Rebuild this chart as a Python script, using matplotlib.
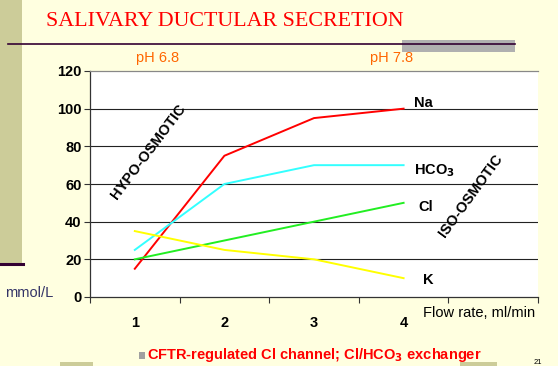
import matplotlib
matplotlib.use("Agg")
import matplotlib.pyplot as plt
from matplotlib.patches import Rectangle
from matplotlib.lines import Line2D

flow = [1, 2, 3, 4]
na = [15, 75, 95, 100]
hco3 = [25, 60, 70, 70]
cl = [20, 30, 40, 50]
k = [35, 25, 20, 10]
yticks = [0, 20, 40, 60, 80, 100, 120]

W, H = 558, 366
fig = plt.figure(figsize=(W / 100, H / 100), dpi=100)
fig.patch.set_facecolor("#FFFFE0")

def fx(px):
    return px / W

def fy(py):
    return 1 - py / H

FS = 10.5

# decorations
fig.patches.append(Rectangle((0, fy(264)), fx(22), fy(0) - fy(264), transform=fig.transFigure,
                             facecolor="#CCCC99", edgecolor="none", zorder=0))
fig.lines.append(Line2D([0, fx(23)], [fy(264), fy(264)], transform=fig.transFigure,
                        color="#330033", lw=2.2))
fig.patches.append(Rectangle((fx(402), fy(52)), fx(113), fy(40) - fy(52), transform=fig.transFigure,
                             facecolor="#B0B0B0", edgecolor="none", zorder=0))
fig.lines.append(Line2D([fx(8), fx(515)], [fy(44), fy(44)], transform=fig.transFigure,
                        color="#330033", lw=1.2))
fig.patches.append(Rectangle((fx(60), 0), fx(33), fy(362), transform=fig.transFigure,
                             facecolor="#CCCC99", edgecolor="none", zorder=0))
fig.patches.append(Rectangle((fx(460), 0), fx(37), fy(362), transform=fig.transFigure,
                             facecolor="#CCCC99", edgecolor="none", zorder=0))
# square bullet as a patch
fig.patches.append(Rectangle((fx(139), fy(359)), fx(6), fy(352) - fy(359), transform=fig.transFigure,
                             facecolor="#A0A0A0", edgecolor="none", zorder=1))

fig.text(fx(46), fy(26), "SALIVARY DUCTULAR SECRETION", color="#FF0000",
         family="Liberation Serif", fontsize=15.8, ha="left", va="baseline")

ax = fig.add_axes([fx(90), fy(297), fx(538) - fx(90), fy(71) - fy(297)])
ax.set_facecolor("white")
ax.set_xlim(0.5, 5.5)
ax.set_ylim(0, 120)

for v in yticks[1:-1]:
    ax.axhline(v, color="#222222", lw=0.8, zorder=1)

ax.plot(flow, na, color="#FF0000", lw=1.4, zorder=3)
ax.plot(flow, hco3, color="#33FFFF", lw=1.4, zorder=3)
ax.plot(flow, cl, color="#22EE22", lw=1.4, zorder=3)
ax.plot(flow, k, color="#FFFF00", lw=1.4, zorder=3)

ax.spines["right"].set_visible(False)
ax.spines["top"].set_color("#888888")
ax.spines["top"].set_linewidth(0.9)
ax.spines["left"].set_color("#333333")
ax.spines["bottom"].set_color("#333333")
ax.spines["left"].set_linewidth(0.9)
ax.spines["bottom"].set_linewidth(0.9)

ax.set_yticks(yticks)
ax.set_yticklabels([str(v) for v in yticks], fontweight="bold", fontsize=FS, family="Liberation Sans")
ax.tick_params(axis="y", length=4, width=0.8, color="#333333", pad=2)

ax.set_xticks(flow)
ax.set_xticklabels([str(v) for v in flow], fontweight="bold", fontsize=FS, family="Liberation Sans")
ax.tick_params(axis="x", which="major", length=0, pad=14)
ax.set_xticks([0.5, 1.5, 2.5, 3.5, 4.5, 5.5], minor=True)
ax.tick_params(axis="x", which="minor", length=4, width=0.8, color="#333333")

lab = dict(fontweight="bold", fontsize=FS, family="Liberation Sans", color="black", va="center")
ax.text(4.12, 103, "Na", **lab)
ax.text(4.12, 67, "HCO$_\\mathbf{3}$", **lab)
ax.text(4.16, 48, "Cl", **lab)
ax.text(4.22, 9, "K", **lab)

ax.text(1.15, 77, "HYPO-OSMOTIC", rotation=53, ha="center", va="center",
        fontweight="bold", fontsize=FS, family="Liberation Sans", rotation_mode="anchor")
ax.text(4.75, 54, "ISO-OSMOTIC", rotation=54, ha="center", va="center",
        fontweight="bold", fontsize=FS, family="Liberation Sans", rotation_mode="anchor")

fig.text(fx(158), fy(58), "pH 6.8", color="#FF6600", fontsize=FS, family="Liberation Sans",
         ha="center", va="center")
fig.text(fx(392), fy(58), "pH 7.8", color="#FF6600", fontsize=FS, family="Liberation Sans",
         ha="center", va="center")
fig.text(fx(5), fy(293), "mmol/L", color="#333366", fontsize=FS, family="Liberation Sans",
         ha="left", va="center")
fig.text(fx(423), fy(313), "Flow rate, ml/min", color="black", fontsize=FS, family="Liberation Sans",
         ha="left", va="center")

fig.text(fx(147), fy(355), "CFTR-regulated Cl channel; Cl/HCO$_\\mathbf{3}$ exchanger", color="#FF0000",
         fontsize=FS, fontweight="bold", family="Liberation Sans", ha="left", va="center")
fig.text(fx(534), fy(362), "21", color="black", fontsize=5.5, family="Liberation Sans",
         ha="left", va="center")

fig.savefig("out.png", dpi=100, facecolor=fig.get_facecolor())
